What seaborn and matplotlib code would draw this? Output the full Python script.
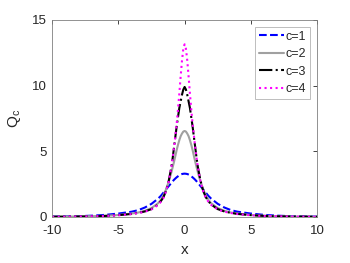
import numpy as np
import pandas as pd
import matplotlib
matplotlib.use("Agg")
import matplotlib.pyplot as plt
import seaborn as sns

# values (symmetric about x = 0)
x_vals = [-10, -8, -7, -6, -5, -4, -3.5, -3, -2.5, -2, -1.8, -1.6, -1.4, -1.2,
          -1.0, -0.9, -0.8, -0.7, -0.6, -0.5, -0.4, -0.3, -0.2, -0.1,
          0,
          0.1, 0.2, 0.3, 0.4, 0.5, 0.6, 0.7, 0.8, 0.9, 1.0,
          1.2, 1.4, 1.6, 1.8, 2, 2.5, 3, 3.5, 4, 5, 6, 7, 8, 10]

q_c1 = [0.03, 0.06, 0.10, 0.16, 0.26, 0.40, 0.52, 0.72, 1.00, 1.40, 1.60, 1.85, 2.10, 2.35,
        2.60, 2.72, 2.83, 2.93, 3.02, 3.10, 3.18, 3.23, 3.27, 3.29,
        3.30,
        3.29, 3.27, 3.23, 3.18, 3.10, 3.02, 2.93, 2.83, 2.72, 2.60,
        2.35, 2.10, 1.85, 1.60, 1.40, 1.00, 0.72, 0.52, 0.40, 0.26, 0.16, 0.10, 0.06, 0.03]

q_c2 = [0.02, 0.04, 0.06, 0.09, 0.15, 0.26, 0.34, 0.47, 0.68, 1.05, 1.30, 1.65, 2.10, 2.70,
        3.40, 3.80, 4.20, 4.65, 5.10, 5.50, 5.85, 6.15, 6.35, 6.50,
        6.55,
        6.50, 6.35, 6.15, 5.85, 5.50, 5.10, 4.65, 4.20, 3.80, 3.40,
        2.70, 2.10, 1.65, 1.30, 1.05, 0.68, 0.47, 0.34, 0.26, 0.15, 0.09, 0.06, 0.04, 0.02]

q_c3 = [0.015, 0.03, 0.05, 0.08, 0.14, 0.23, 0.31, 0.42, 0.60, 0.95, 1.20, 1.50, 2.00, 2.75,
        3.80, 4.50, 5.30, 6.10, 6.90, 7.60, 8.30, 8.80, 9.30, 9.70,
        9.90,
        9.70, 9.30, 8.80, 8.30, 7.60, 6.90, 6.10, 5.30, 4.50, 3.80,
        2.75, 2.00, 1.50, 1.20, 0.95, 0.60, 0.42, 0.31, 0.23, 0.14, 0.08, 0.05, 0.03, 0.015]

q_c4 = [0.01, 0.03, 0.05, 0.07, 0.13, 0.22, 0.30, 0.40, 0.58, 0.92, 1.15, 1.45, 1.95, 2.70,
        3.80, 4.50, 5.30, 6.20, 7.10, 8.20, 9.40, 10.70, 11.90, 12.80,
        13.15,
        12.80, 11.90, 10.70, 9.40, 8.20, 7.10, 6.20, 5.30, 4.50, 3.80,
        2.70, 1.95, 1.45, 1.15, 0.92, 0.58, 0.40, 0.30, 0.22, 0.13, 0.07, 0.05, 0.03, 0.01]

labels = ["c=1", "c=2", "c=3", "c=4"]
colors = ["#0000ff", "#a0a0a0", "#000000", "#ff00ff"]
dashes = ["--", "-", "-.", ":"]

sns.set_style("white")
plt.rcParams["font.family"] = ["Liberation Sans", "DejaVu Sans"]
plt.rcParams["mathtext.default"] = "regular"
plt.rcParams["axes.unicode_minus"] = False

fig = plt.figure(figsize=(3.5, 2.63), dpi=100)
ax = fig.add_axes([0.149, 0.175, 0.757, 0.749])

for lab, ys, col, ls in zip(labels, [q_c1, q_c2, q_c3, q_c4], colors, dashes):
    df = pd.DataFrame({"x": x_vals, "Q": ys})
    sns.lineplot(data=df, x="x", y="Q", ax=ax, color=col, linestyle=ls,
                 linewidth=1.5, label=lab)

ax.set_xlim(-10, 10)
ax.set_ylim(0, 15)
ax.set_xticks([-10, -5, 0, 5, 10])
ax.set_yticks([0, 5, 10, 15])
ax.tick_params(direction="in", length=3, width=0.6, colors="#262626",
               labelsize=9.5, top=True, right=True)
ax.tick_params(axis="x", pad=6)
ax.tick_params(axis="y", pad=4)
for s in ax.spines.values():
    s.set_color("#808080")
    s.set_linewidth(0.6)
ax.set_xlabel("x", fontsize=11, labelpad=4)
ax.set_ylabel("$Q_c$", fontsize=11, labelpad=6)

leg = ax.legend(loc="upper right", fontsize=9, frameon=True, fancybox=False,
                handlelength=2.0, handletextpad=0.15, borderpad=0.3,
                labelspacing=0.45, borderaxespad=0.55)
leg.get_frame().set_edgecolor("#a0a0a0")
leg.get_frame().set_linewidth(0.6)

fig.savefig("out.png", dpi=100)
